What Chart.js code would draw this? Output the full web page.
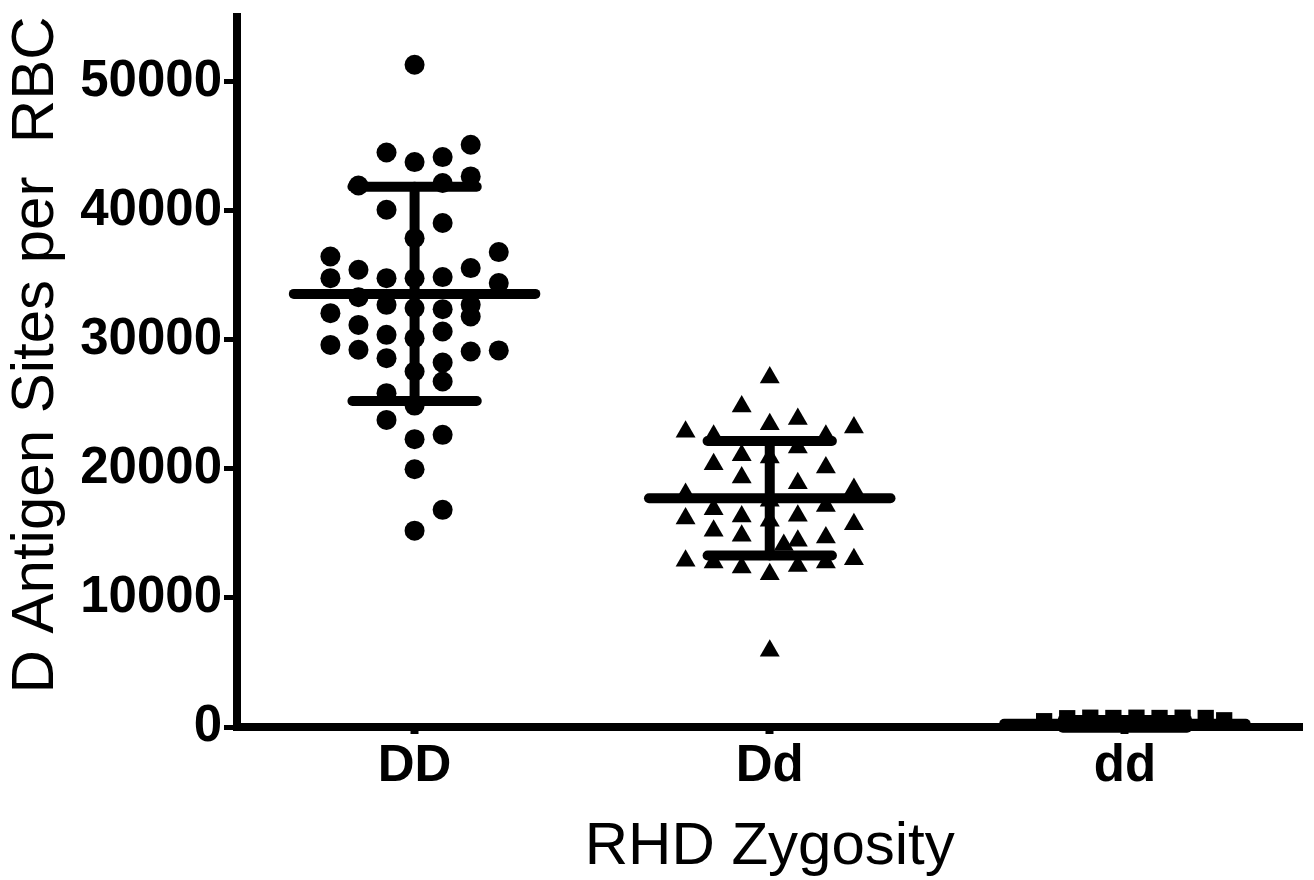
<!DOCTYPE html>
<html>
<head>
<meta charset="utf-8">
<script src="https://cdn.jsdelivr.net/npm/chart.js@4/dist/chart.umd.min.js"></script>
<style>
  html, body { margin: 0; padding: 0; background: #fff; }
</style>
</head>
<body>
<canvas id="myChart" width="1314" height="880"></canvas>
<script>
var groups = ['DD', 'Dd', 'dd'];
var yTicks = [0, 10000, 20000, 30000, 40000, 50000];
var xTitle = 'RHD Zygosity';
var yTitle = 'D Antigen Sites per  RBC';

var ddHomValues = [51300, 44500, 43760, 44150, 45100, 42650, 42140, 41950, 40070, 39040,
                   37870, 36450, 36790, 35550, 35420, 34770, 34770, 34770, 34850, 34390,
                   33300, 32060, 31150, 32700, 32450, 32370, 32700, 31800, 29600, 29220,
                   30380, 28570, 30120, 30640, 28230, 26760, 29090, 29170, 27540, 25860,
                   24900, 23790, 22300, 22630, 19970, 16820, 15210];
var ddHomSlots  = [0, -1, 0, 1, 2, 2, 1, -2, -1, 1,
                   0, -3, 3, 2, -2, -3, -1, 0, 1, 3,
                   -2, -3, -2, -1, 0, 1, 2, 2, -3, -2,
                   -1, -1, 0, 1, 1, 1, 2, 3, 0, -1,
                   0, -1, 0, 1, 0, 1, 0];

var dHetValues = [27080, 24830, 22870, 22560, 23460, 23850, 22560, 23200, 21060, 21660,
                  20880, 20360, 20100, 19330, 18890, 18040, 18430, 17520, 16870, 17120,
                  16150, 16310, 16360, 15970, 15710, 15200, 14810, 14420, 14680, 14100,
                  12870, 12740, 12350, 11840, 12480, 12740, 13000, 5900];
var dHetSlots  = [0, -1, -3, -2, 0, 1, 2, 3, -1, 1,
                  0, -2, 2, -1, 1, -3, 3, 0, -2, 2,
                  -3, -1, 1, 0, 3, -2, -1, 1, 2, 0.5,
                  -3, -2, -1, 0, 1, 2, 3, 0];

var ddNegValues = [450, 680, 720, 700, 720, 700, 720, 700, 520];
var ddNegSlots  = [-3.5, -2.5, -1.5, -0.5, 0.5, 1.5, 2.5, 3.5, 4.3];

// mean and SD shown for each group
var groupMeans = [33550, 17720, 250];
var groupSDs = [8300, 4430, 300];

var slotWidth = [0.079, 0.079, 0.065];
var meanHalf = 0.34;
var capHalf = 0.175;
var fontFamily = '"Liberation Sans", Arial, Helvetica, sans-serif';

function scatterSet(values, slots, g, style, radius) {
    var pts = values.map(function(v, i) {
        return { x: g + 1 + slots[i] * slotWidth[g], y: v };
    });
    return {
        type: 'scatter',
        data: pts,
        pointStyle: style,
        pointRadius: radius,
        pointHoverRadius: radius,
        backgroundColor: '#000',
        borderColor: '#000',
        borderWidth: 0,
        order: 2,
        clip: false
    };
}

function segment(a, b) {
    return {
        type: 'line',
        data: [a, b],
        borderColor: '#000',
        borderWidth: 10,
        borderCapStyle: 'round',
        pointRadius: 0,
        pointHoverRadius: 0,
        fill: false,
        order: 0,
        clip: false
    };
}

function summarySets(g) {
    var cx = g + 1, m = groupMeans[g], s = groupSDs[g];
    return [
        segment({ x: cx - meanHalf, y: m }, { x: cx + meanHalf, y: m }),
        segment({ x: cx, y: m - s }, { x: cx, y: m + s }),
        segment({ x: cx - capHalf, y: m + s }, { x: cx + capHalf, y: m + s }),
        segment({ x: cx - capHalf, y: m - s }, { x: cx + capHalf, y: m - s })
    ];
}

var datasets = [
    scatterSet(ddHomValues, ddHomSlots, 0, 'circle', 10),
    scatterSet(dHetValues, dHetSlots, 1, 'triangle', 11.5),
    scatterSet(ddNegValues, ddNegSlots, 2, 'rect', 11.5)
].concat(summarySets(0), summarySets(1), summarySets(2));

// y title sits a little above the middle of the axis in the original, so draw it by hand
var yTitlePlugin = {
    id: 'yTitle',
    afterDraw: function(chart) {
        var c = chart.ctx;
        var area = chart.chartArea;
        c.save();
        c.translate(36, (area.top + area.bottom) / 2 - 17);
        c.rotate(-Math.PI / 2);
        c.font = '60px ' + fontFamily;
        c.fillStyle = '#000';
        c.textAlign = 'center';
        c.textBaseline = 'middle';
        c.fillText(yTitle, 0, 0);
        c.restore();
    }
};

var ctx = document.getElementById('myChart').getContext('2d');
var chart = new Chart(ctx, {
    type: 'scatter',
    data: { datasets: datasets },
    plugins: [yTitlePlugin],
    options: {
        responsive: false,
        animation: false,
        events: [],
        layout: { padding: { top: 17, right: 8, left: 0, bottom: 0 } },
        plugins: {
            legend: { display: false },
            tooltip: { enabled: false }
        },
        scales: {
            x: {
                type: 'linear',
                min: 0.5,
                max: 3.5,
                afterBuildTicks: function(scale) {
                    scale.ticks = groups.map(function(g, i) { return { value: i + 1 }; });
                },
                afterFit: function(scale) {
                    scale.height = 153;
                    scale.paddingLeft = 0;
                    scale.paddingRight = 0;
                },
                ticks: {
                    callback: function(v) { return groups[v - 1]; },
                    font: { family: fontFamily, size: 51, weight: 'bold' },
                    color: '#000',
                    padding: 2,
                    autoSkip: false,
                    maxRotation: 0
                },
                grid: { drawOnChartArea: false, color: '#000', tickLength: 7, tickWidth: 8 },
                border: { display: true, width: 8, color: '#000' },
                title: {
                    display: true,
                    text: xTitle,
                    font: { family: fontFamily, size: 60 },
                    color: '#000',
                    padding: { top: 0, bottom: -3 }
                }
            },
            y: {
                min: 0,
                max: 55000,
                afterBuildTicks: function(scale) {
                    scale.ticks = yTicks.map(function(v) { return { value: v }; });
                },
                afterFit: function(scale) {
                    scale.width = 237;
                    scale.paddingTop = 0;
                    scale.paddingBottom = 0;
                },
                ticks: {
                    callback: function(v) { return String(v); },
                    font: { family: fontFamily, size: 51, weight: 'bold' },
                    color: '#000',
                    padding: 2
                },
                grid: { drawOnChartArea: false, color: '#000', tickLength: 13, tickWidth: 5 },
                border: { display: true, width: 8, color: '#000' }
            }
        }
    }
});
</script>
</body>
</html>
